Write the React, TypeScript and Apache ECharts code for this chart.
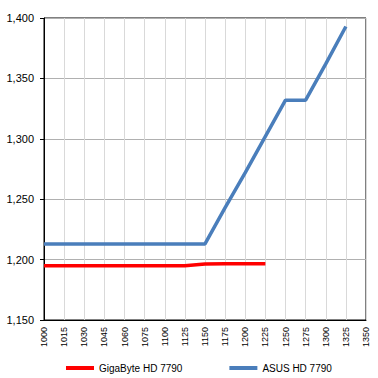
import React, { useEffect, useRef } from "react";
import * as echarts from "echarts";

const categories = ["1000", "1015", "1030", "1045", "1060", "1075", "1100", "1125", "1150", "1175", "1200", "1225", "1250", "1275", "1300", "1325", "1350"];
const gigabyte = [1195, 1195, 1195, 1195, 1195, 1195, 1195, 1195, 1196.3, 1196.5, 1196.5, 1196.5, null, null, null, null, null];
const asus = [1213, 1213, 1213, 1213, 1213, 1213, 1213, 1213, 1213, 1243, 1272, 1302, 1332, 1332, 1362, 1393, null];

const FONT = "Liberation Sans";

export default function App() {
  const ref = useRef<HTMLDivElement>(null);
  useEffect(() => {
    const chart = echarts.init(ref.current!, null, { renderer: "svg" });
    chart.setOption({
      animation: false,
      backgroundColor: "#fff",
      grid: {
        left: 44,
        top: 18,
        right: 12,
        bottom: 58,
        show: true,
        borderColor: "#000",
        borderWidth: 1,
        backgroundColor: "transparent",
      },
      legend: {
        left: 61,
        top: 358,
        icon: "rect",
        itemWidth: 28,
        itemHeight: 4,
        itemGap: 47,
        textStyle: { fontFamily: FONT, fontSize: 10, color: "#000" },
        data: ["GigaByte HD 7790", "ASUS HD 7790"],
      },
      xAxis: {
        type: "category",
        data: categories,
        boundaryGap: false,
        axisLine: { lineStyle: { color: "#000", width: 1 } },
        axisTick: { show: false },
        axisLabel: {
          rotate: 90,
          interval: 0,
          margin: 7,
          fontFamily: FONT,
          fontSize: 9,
          color: "#000",
        },
        splitLine: { show: true, interval: 0, lineStyle: { color: "#d9d9d9", width: 1 } },
      },
      yAxis: {
        type: "value",
        min: 1150,
        max: 1400,
        interval: 50,
        axisLine: { show: true, lineStyle: { color: "#000", width: 1 } },
        axisTick: { show: true, length: 4, lineStyle: { color: "#000" } },
        axisLabel: {
          margin: 10,
          fontFamily: FONT,
          fontSize: 11,
          color: "#000",
          formatter: (v: number) => v.toLocaleString("en-US"),
        },
        splitLine: { show: true, lineStyle: { color: "#b0b0b0", width: 1 } },
      },
      series: [
        {
          name: "GigaByte HD 7790",
          type: "line",
          data: gigabyte,
          symbol: "none",
          lineStyle: { color: "#ff0000", width: 3.5 },
          itemStyle: { color: "#ff0000" },
          z: 3,
        },
        {
          name: "ASUS HD 7790",
          type: "line",
          data: asus,
          symbol: "none",
          lineStyle: { color: "#4a7ebb", width: 3.5 },
          itemStyle: { color: "#4a7ebb" },
          z: 2,
        },
      ],
    });
    return () => chart.dispose();
  }, []);
  return <div ref={ref} style={{ width: 378, height: 378, position: "absolute", left: 0, top: 0 }} />;
}
